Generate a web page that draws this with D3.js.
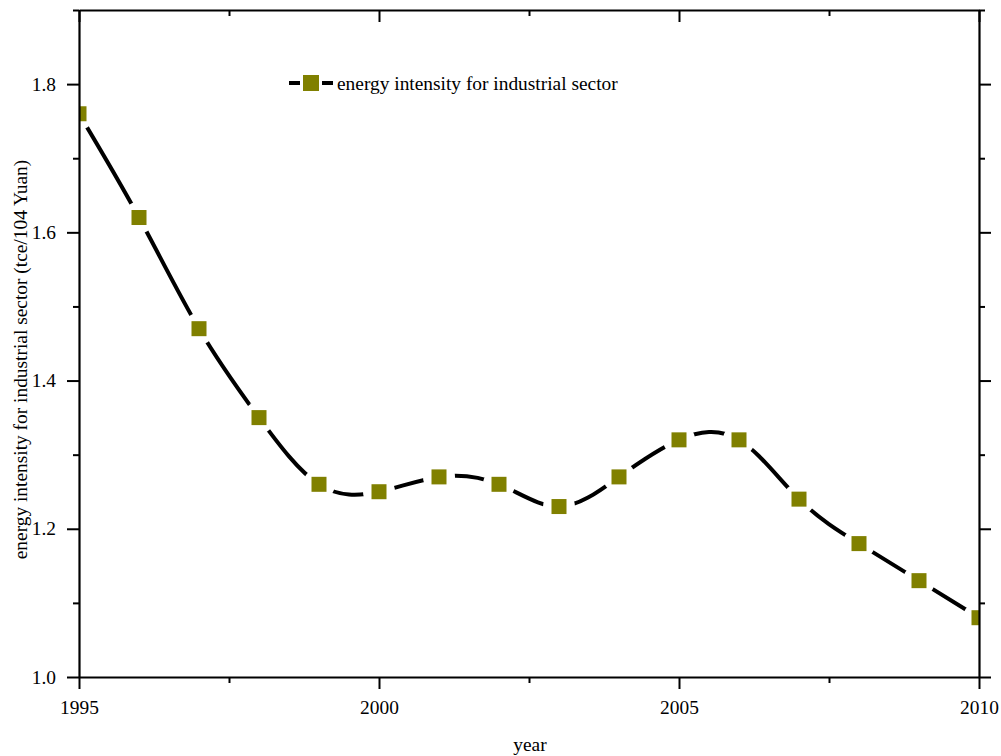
<!DOCTYPE html>
<meta charset="utf-8">
<script src="https://d3js.org/d3.v7.min.js"></script>
<style>
  body { margin: 0; background: #fff; }
  svg text { font-family: "Liberation Serif", "Times New Roman", serif; fill: #000; }
</style>
<div id="my_dataviz"></div>
<script>
// data
var years = [1995, 1996, 1997, 1998, 1999, 2000, 2001, 2002, 2003, 2004, 2005, 2006, 2007, 2008, 2009, 2010];
var intensity = [1.76, 1.62, 1.47, 1.35, 1.26, 1.25, 1.27, 1.26, 1.23, 1.27, 1.32, 1.32, 1.24, 1.18, 1.13, 1.08];
var xTicks = [1995, 2000, 2005, 2010];
var yTicks = [1.0, 1.2, 1.4, 1.6, 1.8];
var seriesName = "energy intensity for industrial sector";

var margin = {top: 10, right: 22, bottom: 79, left: 79},
  width = 1001 - margin.left - margin.right,
  height = 756 - margin.top - margin.bottom;

var fs = "19.4px";

var svg = d3.select("#my_dataviz")
  .append("svg")
    .attr("width", 1001)
    .attr("height", 756)
  .append("g")
    .attr("transform", "translate(" + margin.left + "," + margin.top + ")");

var x = d3.scaleLinear().domain([1995, 2010]).range([0, width]);
var y = d3.scaleLinear().domain([1.0, 1.9]).range([height, 0]);

var data = years.map(function(d, i) { return {year: d, value: intensity[i]}; });

svg.append("clipPath").attr("id", "clip")
  .append("rect").attr("width", width).attr("height", height);

var plot = svg.append("g").attr("clip-path", "url(#clip)");

// spline through the points
var line = d3.line()
  .x(function(d) { return x(d.year); })
  .y(function(d) { return y(d.value); })
  .curve(d3.curveNatural);

plot.append("path")
  .datum(data)
  .attr("d", line)
  .attr("fill", "none")
  .attr("stroke", "#000")
  .attr("stroke-width", 4);

// white gaps around the markers
plot.selectAll(".gap")
  .data(data)
  .enter()
  .append("circle")
    .attr("cx", function(d) { return x(d.year); })
    .attr("cy", function(d) { return y(d.value); })
    .attr("r", 16)
    .attr("fill", "#fff");

var ms = 15;
plot.selectAll(".marker")
  .data(data)
  .enter()
  .append("rect")
    .attr("x", function(d) { return x(d.year) - ms / 2; })
    .attr("y", function(d) { return y(d.value) - ms / 2; })
    .attr("width", ms)
    .attr("height", ms)
    .attr("fill", "#808000");

// axes
var minorX = d3.range(1995, 2010.01, 2.5).filter(function(v) { return xTicks.indexOf(v) < 0; });
var minorY = d3.range(1.1, 1.95, 0.2);

function styleAxis(g) {
  g.attr("font-family", null).attr("font-size", null);
  g.selectAll(".domain").attr("stroke-width", 2.2).attr("stroke", "#000");
  g.selectAll(".tick line").attr("stroke-width", 2).attr("stroke", "#000");
  g.selectAll("text").style("font-size", fs);
}

svg.append("g")
  .attr("transform", "translate(0," + height + ")")
  .call(d3.axisBottom(x).tickValues(xTicks).tickFormat(d3.format("d")).tickSize(12).tickSizeOuter(0).tickPadding(11))
  .call(styleAxis);
svg.append("g")
  .attr("transform", "translate(0," + height + ")")
  .call(d3.axisBottom(x).tickValues(minorX).tickFormat("").tickSize(6).tickSizeOuter(0))
  .call(styleAxis).select(".domain").remove();

svg.append("g")
  .call(d3.axisLeft(y).tickValues(yTicks).tickFormat(d3.format(".1f")).tickSize(12).tickSizeOuter(0).tickPadding(11))
  .call(styleAxis);
svg.append("g")
  .call(d3.axisLeft(y).tickValues(minorY).tickFormat("").tickSize(6).tickSizeOuter(0))
  .call(styleAxis).select(".domain").remove();

svg.append("g")
  .call(d3.axisBottom(x).tickValues(xTicks).tickFormat("").tickSize(12).tickSizeOuter(0))
  .call(styleAxis);
svg.append("g")
  .call(d3.axisBottom(x).tickValues(minorX).tickFormat("").tickSize(6).tickSizeOuter(0))
  .call(styleAxis).select(".domain").remove();

svg.append("g")
  .attr("transform", "translate(" + width + ",0)")
  .call(d3.axisLeft(y).tickValues(yTicks).tickFormat("").tickSize(-12).tickSizeOuter(0))
  .call(styleAxis);
svg.append("g")
  .attr("transform", "translate(" + width + ",0)")
  .call(d3.axisLeft(y).tickValues(minorY).tickFormat("").tickSize(-6).tickSizeOuter(0))
  .call(styleAxis).select(".domain").remove();

// axis titles
svg.append("text")
  .attr("x", 451)
  .attr("y", height + 74)
  .attr("text-anchor", "middle")
  .style("font-size", fs)
  .text("year");

svg.append("text")
  .attr("transform", "translate(-52," + (height / 2 + 16) + ") rotate(-90)")
  .attr("text-anchor", "middle")
  .style("font-size", fs)
  .text("energy intensity for industrial sector (tce/104 Yuan)");

// legend
var lg = svg.append("g").attr("transform", "translate(210,73)");
lg.append("line").attr("x1", 0).attr("x2", 44).attr("y1", 0).attr("y2", 0)
  .attr("stroke", "#000").attr("stroke-width", 4);
lg.append("rect").attr("x", 11).attr("y", -11).attr("width", 22).attr("height", 22).attr("fill", "#fff");
lg.append("rect").attr("x", 22 - 8).attr("y", -8).attr("width", 16).attr("height", 16).attr("fill", "#808000");
lg.append("text").attr("x", 48).attr("y", 7).style("font-size", fs).text(seriesName);
</script>
